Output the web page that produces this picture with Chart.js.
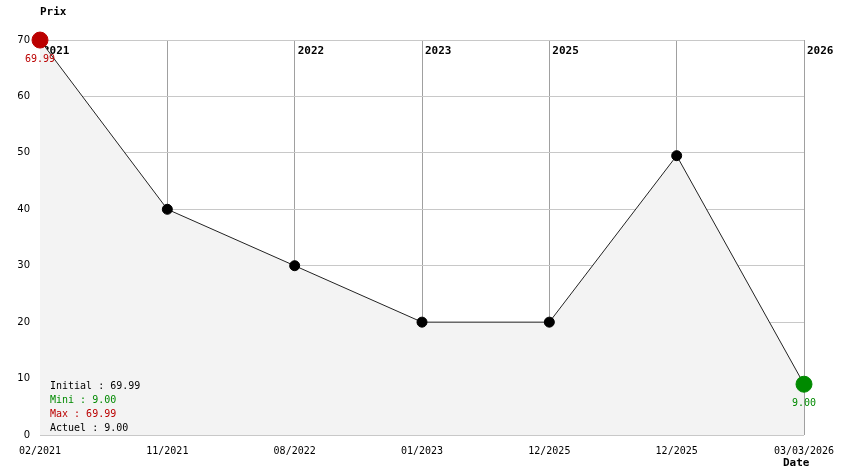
<!DOCTYPE html>
<html>
<head>
<meta charset="utf-8">
<script src="https://cdn.jsdelivr.net/npm/chart.js@4"></script>
<style>
  body { margin: 0; background: #fff; }
  #wrap { width: 844px; height: 474px; }
</style>
</head>
<body>
<div id="wrap"><canvas id="prix" width="844" height="474"></canvas></div>
<script>
// données
const dates = ['02/2021', '11/2021', '08/2022', '01/2023', '12/2025', '12/2025', '03/03/2026'];
const prix = [69.99, 40, 30, 20, 20, 49.5, 9.00];
const yTicks = [0, 10, 20, 30, 40, 50, 60, 70];

const mono = '"DejaVu Sans Mono", "Liberation Mono", monospace';
const rouge = '#bb0000';
const vert = '#008a00';

const iMax = prix.indexOf(Math.max(...prix));
const iMin = prix.lastIndexOf(Math.min(...prix));

const radius = prix.map((v, i) => (i === iMax || i === iMin) ? 8 : 5);
const colors = prix.map((v, i) => i === iMax ? rouge : (i === iMin ? vert : '#000'));

const annotations = {
    id: 'annotations',
    beforeDatasetsDraw(chart) {
        const ctx = chart.ctx;
        const x = chart.scales.x;
        const area = chart.chartArea;
        ctx.save();
        ctx.font = 'bold 11px ' + mono;
        ctx.fillStyle = '#000';
        ctx.textAlign = 'left';
        ctx.textBaseline = 'middle';
        let last = '';
        dates.forEach((d, i) => {
            const an = d.slice(-4);
            if (an !== last) {
                ctx.fillText(an, x.getPixelForValue(i) + 3, area.top + 11);
            }
            last = an;
        });
        ctx.restore();
    },
    afterDatasetsDraw(chart) {
        const ctx = chart.ctx;
        const meta = chart.getDatasetMeta(0);
        const area = chart.chartArea;
        ctx.save();
        ctx.font = '10px ' + mono;
        ctx.textAlign = 'center';
        ctx.textBaseline = 'middle';
        [[iMax, rouge], [iMin, vert]].forEach(([i, c]) => {
            const p = meta.data[i];
            ctx.fillStyle = c;
            ctx.fillText(prix[i].toFixed(2), p.x, p.y + 19);
        });

        // résumé en bas à gauche
        const lines = [
            ['Initial : ' + prix[0].toFixed(2), '#000'],
            ['Mini : ' + prix[iMin].toFixed(2), vert],
            ['Max : ' + prix[iMax].toFixed(2), rouge],
            ['Actuel : ' + prix[prix.length - 1].toFixed(2), '#000']
        ];
        ctx.textAlign = 'left';
        lines.forEach(([t, c], k) => {
            ctx.fillStyle = c;
            ctx.fillText(t, area.left + 10, 386 + k * 14);
        });

        // titres des axes
        ctx.font = 'bold 11px ' + mono;
        ctx.fillStyle = '#000';
        ctx.fillText('Prix', area.left, 12);
        ctx.fillText('Date', 783, 463);
        ctx.restore();
    }
};

new Chart(document.getElementById('prix'), {
    type: 'line',
    data: {
        labels: dates,
        datasets: [{
            data: prix,
            clip: false,
            borderColor: '#222',
            borderWidth: 1,
            fill: 'origin',
            backgroundColor: '#f3f3f3',
            tension: 0,
            pointRadius: radius,
            pointBackgroundColor: colors,
            pointBorderColor: colors,
            pointBorderWidth: 1
        }]
    },
    options: {
        responsive: false,
        animation: false,
        layout: { padding: { top: 40, right: 40, left: 0, bottom: 0 } },
        plugins: {
            legend: { display: false },
            tooltip: { enabled: false }
        },
        scales: {
            x: {
                offset: false,
                border: { display: false },
                grid: { color: '#a0a0a0', drawTicks: false },
                ticks: {
                    autoSkip: false,
                    maxRotation: 0,
                    padding: 10,
                    color: '#000',
                    font: { family: mono, size: 10 }
                },
                afterFit(scale) {
                    scale.height = 39;
                    scale.paddingLeft = 0;
                    scale.paddingRight = 0;
                }
            },
            y: {
                min: 0,
                max: 70,
                border: { display: false },
                grid: { color: '#c8c8c8', drawTicks: false },
                afterBuildTicks(scale) {
                    scale.ticks = yTicks.map(v => ({ value: v }));
                },
                ticks: {
                    padding: 10,
                    color: '#000',
                    font: { family: '"DejaVu Sans", sans-serif', size: 10 }
                },
                afterFit(scale) {
                    scale.width = 40;
                }
            }
        }
    },
    plugins: [annotations]
});
</script>
</body>
</html>
